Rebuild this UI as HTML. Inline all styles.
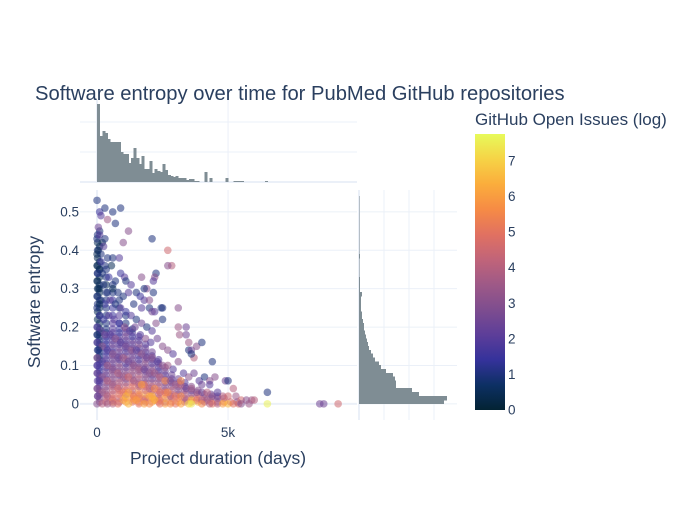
<!DOCTYPE html>
<html><head><meta charset="utf-8"><style>
body{margin:0;background:#fff;font-family:"Liberation Sans",sans-serif}
svg text{font-family:"Liberation Sans",sans-serif;fill:#2a3f5f}
</style></head><body>
<svg id="chart" width="700" height="500" xmlns="http://www.w3.org/2000/svg">
<rect width="700" height="500" fill="#fff"/>
<text x="35" y="100" font-size="20.2">Software entropy over time for PubMed GitHub repositories</text>
<g id="grid"></g>
<g id="hists" shape-rendering="crispEdges"></g>
<g id="marks"></g>
<g id="axes"></g>
<text x="218" y="464" font-size="17.5" text-anchor="middle">Project duration (days)</text>
<text x="0" y="0" font-size="17.5" text-anchor="middle" transform="translate(40,302) rotate(-90)">Software entropy</text>
<defs><linearGradient id="thermal" x1="0" y1="1" x2="0" y2="0"></linearGradient></defs>
<text x="475" y="125" font-size="17">GitHub Open Issues (log)</text>
<rect x="475" y="134" width="30" height="276" fill="url(#thermal)"/>
<g id="cbticks"></g>
</svg>
<script>
// ---- data ----
const xTicks = [0, 5000];
const xTickLabels = ["0", "5k"];
const yTicks = [0, 0.1, 0.2, 0.3, 0.4, 0.5];
const yTickLabels = ["0", "0.1", "0.2", "0.3", "0.4", "0.5"];
const cTicks = [0,1,2,3,4,5,6,7];
// top histogram: counts per 100-day bin starting at 0
const durationBinWidth = 100;
const durationCounts = [260,153,170,163,143,133,133,133,133,100,93,93,63,80,113,80,60,87,43,43,70,30,43,37,33,60,40,23,20,17,20,13,13,13,7,10,10,3,3,0,0,33,0,13,0,0,0,0,0,13,0,0,3,3,3,3,0,0,0,0,0,0,0,0,3];
// right histogram: counts per 0.01 entropy bin starting at 0
const entropyBinWidth = 0.01;
const entropyCounts = [340,352,240,212,148,148,144,136,108,88,80,64,56,48,40,36,32,28,24,20,20,16,12,12,8,8,8,8,12,4,4,4,4,2,2,2,2,2,4,2,2,1,2,1,1,1,1,1,1,1,2,1,1,1];
// dense cloud rows: entropy level, durations, log issues
const denseEntropy = [0.005,0.015,0.025,0.035,0.045,0.055,0.065,0.075,0.085,0.095,0.105,0.115,0.125,0.135,0.145,0.155,0.165,0.175,0.185,0.195,0.21,0.23,0.25,0.27,0.29,0.31,0.33,0.35,0.37,0.41,0.45];
const denseDurations = [
[100,350,600,850,1100,1350,1600,1850,2100,2350,2600,2850,3100,3350,3600,3850,4100,4350,4600,4850,5100,5350],
[100,350,600,850,1100,1350,1600,1850,2100,2350,2600,2850,3100,3350,3600,3850,4100,4350,4600,4850],
[100,350,600,850,1100,1350,1600,1850,2100,2350,2600,2850,3100,3350,3600,3850,4100,4350],
[100,350,600,850,1100,1350,1600,1850,2100,2350,2600,2850,3100,3350,3600,3850],
[100,350,600,850,1100,1350,1600,1850,2100,2350,2600,2850,3100,3350,3600],
[100,350,600,850,1100,1350,1600,1850,2100,2350,2600,2850,3100,3350],
[100,350,600,850,1100,1350,1600,1850,2100,2350,2600,2850,3100],
[100,350,600,850,1100,1350,1600,1850,2100,2350,2600,2850],
[100,350,600,850,1100,1350,1600,1850,2100,2350,2600],
[100,350,600,850,1100,1350,1600,1850,2100,2350,2600],
[100,350,600,850,1100,1350,1600,1850,2100,2350],
[100,350,600,850,1100,1350,1600,1850,2100,2350],
[100,350,600,850,1100,1350,1600,1850,2100],
[100,350,600,850,1100,1350,1600,1850,2100],
[100,350,600,850,1100,1350,1600,1850],
[100,350,600,850,1100,1350,1600,1850],
[100,350,600,850,1100,1350,1600],
[100,350,600,850,1100,1350,1600],
[100,350,600,850,1100,1350],
[100,350,600,850,1100,1350],
[100,350,600,850,1100],
[100,350,600,850,1100],
[100,350,600,850],
[100,350,600,850],
[100,350,600],
[100,350,600],
[100,350],
[100,350],
[100],[100],[100]
];
const denseIssues = [
[3,4.5,5.5,4,6,5,5.5,4.5,6,5,4,5.5,6,4.5,5,6.5,4,5,3.5,5.5,4.5,3],
[3,4,5,4.5,5.5,6,5,4,5.5,5,6,4.5,5,3.5,5,4.5,4,3.5,3,4],
[2.5,3.5,4.5,5,4,5.5,4.5,6,5,4,5.5,4.5,3.5,4,3,4.5,3,2.5],
[3,3.5,4,4.5,5,4,5.5,4.5,4,5,3.5,4,3,3.5,2.5,3],
[2.5,3,4,3.5,4.5,5,4,4.5,3.5,4,3,3.5,3,2.5,3],
[2,3,3.5,4,3.5,4.5,4,3,4,3.5,3,2.5,3,2],
[2,2.5,3,3.5,3,4,3.5,3,2.5,3,3.5,2,2.5],
[2,2.5,3,2.5,3.5,3,4,3,2.5,3,2,2.5],
[1.5,2.5,3,2.5,3,3.5,3,2.5,3,2,2.5],
[1.5,2,2.5,3,2.5,3,3.5,2.5,3,2,3],
[1.5,2,2.5,3,2,3,2.5,3,2,2.5],
[1,2,2.5,2,3,2.5,2,3,2.5,2],
[1,2,2.5,2,3,2.5,2,2.5,2],
[1,1.5,2,2.5,2,2.5,3,2,2.5],
[1,1.5,2,2.5,2,3,2,2.5],
[1,1.5,2.5,2,2.5,2,3,2],
[1,1.5,2,2.5,2,2.5,2],
[1,1.5,2,2,2.5,1.5,2],
[0.5,1.5,2,1.5,2.5,2],
[0.5,1,2,1.5,2,1],
[0.5,1,2,1.5,1],
[0.5,1,1.5,2,1],
[0.5,1,1.5,1],
[0.5,1,1.5,1],
[0.5,1,1],
[0.5,0.5,1],
[0.5,1],
[0.5,1],
[0.5],[0.5],[1]
];
// left edge column (duration ~20 days)
const edgeEntropy = [0.02,0.04,0.06,0.08,0.10,0.12,0.14,0.16,0.18,0.20,0.22,0.24,0.26,0.28,0.30,0.32,0.34,0.36,0.38,0.40,0.42,0.44];
const edgeIssues = [2.5,2,2,1.5,1.5,1,1,1,0.5,1,0.5,0.5,1,0.5,0.5,0.5,1,0.5,0.5,1,0.5,1];
// scattered points: [duration days, entropy, log open issues]
const scatterPoints = [
[0,.53,1],[100,.50,1.5],[300,.51,1],[150,.49,2],[900,.51,1],[600,.50,1],[400,.48,3.5],[700,.47,1],[50,.46,2.5],[1200,.45,3],
[0,.43,1],[100,.44,2],[200,.42,0.5],[300,.43,1],[50,.40,0.5],[150,.39,1],[250,.41,2],[400,.38,1],[600,.38,1],[850,.38,2],
[1000,.42,3],[2100,.43,1],[2700,.40,4.5],[2850,.36,4],[2700,.36,3],[2250,.34,1],[2200,.33,3],[2150,.32,2],[1900,.30,3],[2150,.29,1],
[2500,.25,1],[2450,.25,1],[2200,.24,2],[3100,.25,3],[2500,.22,1],
[0,.36,0.5],[100,.35,0.5],[200,.34,1],[300,.36,1],[450,.33,1.5],[550,.36,0.5],[700,.32,1],[900,.34,1.5],[1050,.33,2],[1100,.32,1],
[1300,.31,2],[1500,.29,1],[1650,.28,1.5],[1800,.27,2],[1400,.26,1],[1700,.25,2],[2000,.25,1],[2100,.24,2.5],
[0,.32,0.5],[100,.30,0.5],[250,.31,1],[400,.29,1],[600,.30,0.5],[800,.29,1],[1000,.28,1],[1200,.29,2],[0,.28,1],[150,.27,1],
[300,.26,1.5],[500,.27,2],[700,.26,1],[900,.25,2],[1100,.24,1.5],[1300,.23,2],[1500,.22,1],[1700,.21,2.5],[1900,.20,1],[2100,.19,2],
[0,.25,1],[100,.23,1.5],[250,.22,1.5],[450,.23,2],[650,.22,2],[850,.21,1.5],[1050,.20,3],[1250,.19,2],[1450,.20,2.5],[1650,.18,2],
[1850,.17,3],[2050,.16,2],[2300,.17,2.5],[2500,.15,3],[2700,.14,3],[2900,.13,2],[3400,.18,2.5],[3400,.20,2.5],[3500,.14,1],[3600,.14,2.5],
[3800,.15,3],[4000,.16,1],[3700,.12,4],[3600,.13,1],
[0,.20,2],[150,.19,2],[300,.18,2.5],[500,.18,2],[700,.17,3],[900,.16,2],[1100,.15,2.5],[1300,.14,3],[1500,.14,2],[1700,.13,3],
[1900,.12,2.5],[2100,.12,3],[2300,.11,2],[2500,.10,3],[2700,.10,3.5],[2900,.09,2],[3100,.11,3],[3300,.08,2],[3500,.07,3],[3700,.08,2.5],
[3900,.06,2],[4100,.07,1],[4400,.11,1],[4500,.07,3],[4300,.06,3],[4900,.06,2.5],[5000,.06,1],[5200,.04,4],
[0,.16,2],[200,.15,3],[400,.14,2],[600,.13,3],[800,.12,2.5],[1000,.12,3.5],[1200,.11,2.5],[1400,.10,3],[1600,.09,3.5],[1800,.09,2.5],
[2000,.08,3],[2200,.08,3.5],[2400,.07,4],[2600,.06,5.5],[2800,.06,3],[3000,.05,3.5],[3200,.05,4],[3400,.04,2.5],[3600,.04,3.5],[3800,.03,3],
[4000,.03,2.5],[4200,.03,4],[4400,.02,3],[4600,.02,2.5],[4800,.02,4],[5000,.02,4.5],[5300,.02,3.5],[5500,.01,4.5],[5700,.01,3],[5900,.01,3.5],
[6500,.03,1],[6000,.01,4],
[0,.12,3],[200,.11,2],[400,.10,3.5],[600,.09,3],[800,.08,4],[1000,.07,3.5],[1200,.07,4.5],[1400,.06,3.5],[1600,.05,4],[1800,.05,5],
[2000,.04,4],[2200,.04,5.5],[2400,.03,4.5],[2600,.03,5],[2800,.02,4],[3000,.02,5],[3200,.02,5.5],[3400,.01,4],[3600,.01,6.5],[3800,.01,5],
[4000,.01,4],[4200,.01,3.5],[4400,0,5],[4600,0,4],[4800,0,6],[5000,0,6.5],[5200,0,5],[5400,0,4.5],
[0,.08,2.5],[200,.07,3],[400,.06,4],[600,.05,3.5],[800,.04,4.5],[1000,.03,5],[1200,.03,6],[1400,.02,5],[1600,.02,5.5],[1800,.01,5],
[2000,.02,6],[2200,.01,5.5],[2400,.01,5],[2600,0,6],[2800,0,5.5],[3000,0,5],[3200,0,6],[3500,0,7],[3600,0,7.5],[4000,0,5.5],
[4300,0,4],[6500,0,7.6],[8500,0,2.5],[8650,0,2.5],[9200,0,4.5],[5500,0,3],[5800,0,3.5],
[0,.04,3],[200,.03,3.5],[400,.02,4],[600,.01,4.5],[800,0,5],[1000,.01,6],[1200,0,6.5],[1400,.01,5.5],[1600,0,5],[1800,0,6],
[2000,0,5.5],[2200,.01,6.5],[2400,0,5],[0,0,3],[200,0,4],[400,0,3.5],[600,0,4],[1100,.02,6.5],[1500,.01,6],[2100,.02,6.5],
[2700,.03,5.5],[1700,.05,6],[3200,.06,5.5],
[0,.18,1],[50,.14,1],[0,.10,2],[80,.06,2],[30,.02,2.5],[100,.26,0.5],[50,.30,0.5],[20,.34,1],[150,.37,1.5],[0,.39,0.5],
[1700,.33,3],[2000,.27,3],[1800,.30,1],[2250,.21,3],[3100,.20,3.5],[3150,.18,3.5],[3500,.16,3.5],[4000,.05,2.5],[4300,.05,2],[4600,.03,2]
];
// ---- scales ----
const X0=80,X1=357, Y0=190,Y1=420;
const xMin=-650,xMax=9920, yMin=-0.042,yMax=0.557;
const xs=v=>X0+(v-xMin)/(xMax-xMin)*(X1-X0);
const ys=v=>Y1-(v-yMin)/(yMax-yMin)*(Y1-Y0);
const TH0=100,TH1=182, thScale=0.3;
const RH0=359, rhScale=0.25;
const cMax=7.76;
const thermal=[[3,35,51],[13,48,100],[53,50,155],[93,62,153],[126,77,143],[158,89,135],[193,100,121],[225,113,97],[246,139,69],[251,173,60],[246,211,70],[231,250,90]];
function cscale(v){let t=Math.max(0,Math.min(1,v/cMax))*(thermal.length-1);let i=Math.min(thermal.length-2,Math.floor(t)),f=t-i;
 const a=thermal[i],b=thermal[i+1];return `rgb(${a.map((c,k)=>Math.round(c+(b[k]-c)*f)).join(',')})`;}
const NS="http://www.w3.org/2000/svg";
function mk(tag,attrs,parent){const e=document.createElementNS(NS,tag);for(const k in attrs)e.setAttribute(k,attrs[k]);parent.appendChild(e);return e;}
const grid=document.getElementById('grid'),hists=document.getElementById('hists'),marks=document.getElementById('marks'),axes=document.getElementById('axes');
const grad=document.getElementById('thermal');
thermal.forEach((c,i)=>{mk('stop',{offset:(i/(thermal.length-1)),'stop-color':`rgb(${c.join(',')})`},grad);});
xTicks.forEach((t,i)=>{
 const g=mk('line',{x1:xs(t),x2:xs(t),y1:Y0,y2:Y1,stroke:'#ebf0f8','stroke-width':t===0?2:1},grid);
 
 
 const gt=mk('line',{x1:xs(t),x2:xs(t),y1:TH0,y2:TH1,stroke:'#ebf0f8','stroke-width':t===0?2:1},grid);
 
 
 const l=mk('text',{x:xs(t),y:437,'font-size':13.5,'text-anchor':'middle'},axes);l.textContent=xTickLabels[i];
 
 
});
yTicks.forEach((t,i)=>{
 const g=mk('line',{x1:X0,x2:X1,y1:ys(t),y2:ys(t),stroke:'#ebf0f8','stroke-width':t===0?2:1},grid);
 
 
 const gr=mk('line',{x1:RH0,x2:457,y1:ys(t),y2:ys(t),stroke:'#ebf0f8','stroke-width':1},grid);
 
 
 const l=mk('text',{x:79,y:ys(t)+4.5,'font-size':13.5,'text-anchor':'end'},axes);l.textContent=yTickLabels[i];
 
 
});
[100,200].forEach(c=>{const g=mk('line',{x1:X0,x2:X1,y1:TH1-c*thScale,y2:TH1-c*thScale,stroke:'#ebf0f8'},grid);
 
 });
[100,200,300].forEach(c=>{const g=mk('line',{x1:RH0+c*rhScale,x2:RH0+c*rhScale,y1:Y0,y2:Y1,stroke:'#ebf0f8'},grid);
 
 });
mk('line',{x1:X0,x2:X1,y1:TH1,y2:TH1,stroke:'#ebf0f8','stroke-width':2},grid);
mk('line',{x1:RH0,x2:RH0,y1:Y0,y2:Y1,stroke:'#ebf0f8','stroke-width':2},grid);
durationCounts.forEach((c,i)=>{if(!c)return;
 const x=xs(i*durationBinWidth),w=xs((i+1)*durationBinWidth)-x;
 const r=mk('rect',{x:x,y:TH1-c*thScale,width:w+0.4,height:c*thScale,fill:'#7f8d94'},hists);
 
 
});
entropyCounts.forEach((c,i)=>{if(!c)return;
 const y=ys((i+1)*entropyBinWidth),h=ys(i*entropyBinWidth)-y;
 const r=mk('rect',{x:RH0,y:y-0.3,width:c*rhScale,height:h+0.6,fill:'#7f8d94'},hists);
 
 
});
function dot(d,e,c){
 const el=mk('circle',{cx:xs(d),cy:ys(e),r:3.8,fill:cscale(c),'fill-opacity':0.55},marks);
 
 
}
denseEntropy.forEach((e,ri)=>{denseDurations[ri].forEach((d,k)=>dot(d,e,denseIssues[ri][k]));});
edgeEntropy.forEach((e,k)=>dot(20,e,edgeIssues[k]));
scatterPoints.forEach(p=>dot(p[0],p[1],p[2]));
const cb=document.getElementById('cbticks');
cTicks.forEach(t=>{const y=410-t*(276/cMax);
 const l=mk('text',{x:508,y:y+4.5,'font-size':13.5},cb);l.textContent=String(t);
 
 
});
</script>
</body></html>
